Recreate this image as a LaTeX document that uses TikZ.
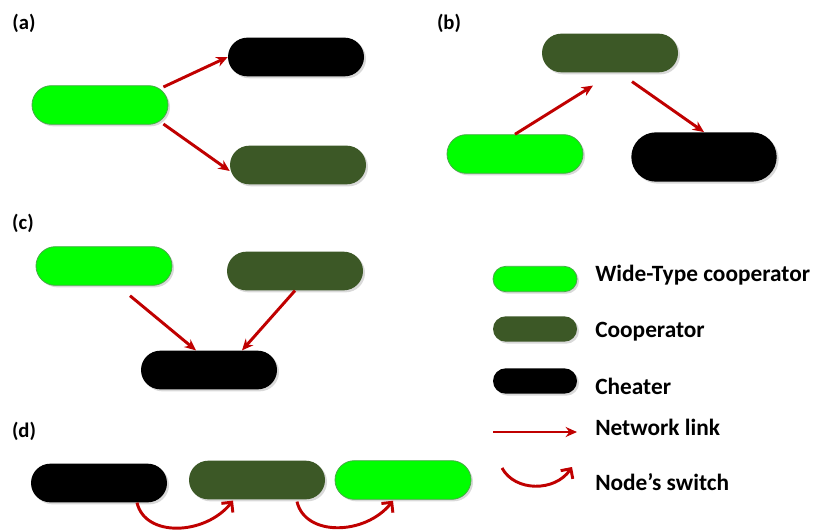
\documentclass[tikz,border=0pt]{standalone}
\usepackage{fontspec}
\setmainfont{Carlito}
\usetikzlibrary{arrows.meta,shapes.misc,shadows,calc}
\definecolor{wtgreen}{RGB}{0,255,0}
\definecolor{wtedge}{RGB}{70,170,70}
\definecolor{coopgreen}{RGB}{60,88,38}
\definecolor{linkred}{RGB}{192,0,0}
\begin{document}
\begin{tikzpicture}[x=0.75pt, y=-0.75pt, every node/.style={font=\bfseries\fontsize{17.5}{20}\selectfont},
  pill/.style={rounded rectangle, minimum width=102pt, minimum height=29pt, inner sep=0pt, drop shadow={shadow xshift=1.5pt, shadow yshift=-1.5pt, opacity=0.3}},
  wtpill/.style={pill, fill=wtgreen, draw=wtedge, line width=0.6pt},
  cooppill/.style={pill, fill=coopgreen},
  cheatpill/.style={pill, fill=black},
  keypill/.style={minimum width=63pt, minimum height=19pt},
  link/.style={-{Stealth[length=8.5pt,width=7.5pt]}, line width=2.2pt, draw=linkred},
  switch/.style={-{Straight Barb[length=5.5pt,width=11pt]}, line width=2.2pt, draw=linkred},
  panel/.style={font=\bfseries\fontsize{15.5}{18}\selectfont, inner sep=0pt},
  keytext/.style={anchor=base west, inner sep=0pt}]
\useasboundingbox (0,0) rectangle (817,531);
\node[panel] (la) at (24,23) {(a)}; \node[panel] (lb) at (449,23) {(b)};
\node[panel] (lc) at (23,223) {(c)}; \node[panel] (ld) at (24,431) {(d)};
\node[wtpill] (ga) at (100,105) {}; \node[cheatpill] (ba) at (296,57) {}; \node[cooppill] (ka) at (298,165) {};
\draw[link] ($(ga.east)+(-5,-18)$) -- (ba.west);
\draw[link] ($(ga.east)+(-5,19)$) -- ($(ka.west)+(0,6)$);
\node[cooppill] (kb) at (610,53) {}; \node[wtpill] (gb) at (515,154) {};
\node[cheatpill, minimum width=109pt, minimum height=37pt] (bb) at (704,157) {};
\draw[link] (gb.north) -- ($(kb.south)+(-17,13)$);
\draw[link] ($(kb.south)+(22,9)$) -- (bb.north);
\node[wtpill] (gc) at (104,266) {}; \node[cooppill] (kc) at (295,271) {}; \node[cheatpill] (bc) at (209,370) {};
\draw[link] ($(gc.south)+(26,10)$) -- ($(bc.north)+(-13,0)$);
\draw[link] (kc.south) -- ($(bc.north)+(33,0)$);
\node[cheatpill] (bd) at (99,483) {}; \node[cooppill] (kd) at (257,480) {}; \node[wtpill] (gd) at (403,480) {};
\draw[switch] ($(bd.south)+(38,0)$) .. controls +(8,35) and +(-28,35) .. ($(kd.south)+(-24,1)$);
\draw[switch] ($(kd.south)+(40,2)$) .. controls +(8,35) and +(-28,35) .. ($(gd.south)+(-10,1)$);
\node[wtpill, keypill] (lg) at (535,279) {}; \node[keytext] (tg) at (595,281) {Wide-Type cooperator};
\node[cooppill, keypill] (lk) at (535,329) {}; \node[keytext] (tk) at (595,337) {Cooperator};
\node[cheatpill, keypill] (lx) at (535,381) {}; \node[keytext] (tx) at (595,394) {Cheater};
\coordinate (ls) at (493,432); \coordinate (le) at (577,432);
\draw[link, line width=1.8pt] (ls) -- (le); \node[keytext] (tl) at (595,435) {Network link};
\coordinate (ws) at (502,468); \coordinate (we) at (572,467);
\draw[switch] (ws) .. controls (515,492) and (555,492) .. (we); \node[keytext] (tw) at (595,490) {Node’s switch};
\end{tikzpicture}
\end{document}
